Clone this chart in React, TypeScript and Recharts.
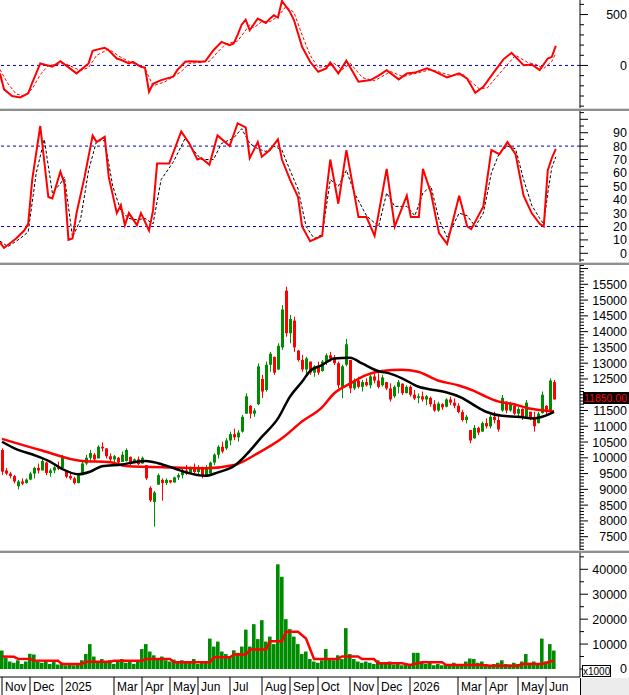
import React from "react"
import {
    ComposedChart,
    Bar,
    Line,
    XAxis,
    YAxis,
    ReferenceLine,
} from "recharts"

// each slot is one candle (~3 sessions); 145 slots fill the 580px plot
const SLOTS = 145

// [open, high, low, close]
const candles: [number, number, number, number][] = [
    [10250, 10300, 9460, 9560], [9600, 9680, 9450, 9500], [9500, 9560, 9350, 9420], [9420, 9460, 9190, 9250],
    [9100, 9300, 9000, 9250], [9250, 9350, 9140, 9180], [9200, 9350, 9180, 9310], [9310, 9560, 9290, 9500],
    [9500, 9720, 9350, 9680], [9680, 9820, 9500, 9600], [9600, 9980, 9600, 9900], [9850, 9880, 9450, 9520],
    [9520, 9660, 9400, 9600], [9600, 9770, 9510, 9700], [9700, 9880, 9610, 9650], [9680, 10090, 9670, 10000],
    [9600, 9610, 9350, 9400], [9420, 9560, 9300, 9350], [9350, 9400, 9160, 9200], [9200, 9510, 9190, 9450],
    [9450, 9880, 9450, 9820], [9820, 10090, 9770, 10000], [10000, 10250, 9880, 10150], [10100, 10150, 9880, 9950],
    [9980, 10400, 9980, 10350], [10350, 10490, 10200, 10300], [10300, 10300, 9980, 10050], [10050, 10140, 9880, 9950],
    [9950, 10090, 9830, 10050], [10000, 10030, 9770, 9850], [9870, 10200, 9870, 10100], [9900, 10300, 9880, 10250],
    [10030, 10040, 9770, 9850], [9850, 9980, 9830, 9950], [9950, 10040, 9770, 9800], [9820, 10040, 9810, 10000],
    [9770, 9770, 9300, 9350], [9050, 9100, 8600, 8650], [8600, 8950, 7820, 8900], [9150, 9500, 9140, 9450],
    [9300, 9350, 8640, 9200], [9200, 9350, 9140, 9300], [9290, 9300, 9190, 9220], [9220, 9400, 9210, 9380],
    [9380, 9510, 9300, 9450], [9450, 9670, 9350, 9600], [9600, 9770, 9460, 9500], [9520, 9720, 9510, 9680],
    [9680, 9820, 9500, 9550], [9550, 9770, 9460, 9700], [9700, 9720, 9350, 9420], [9450, 9770, 9450, 9700],
    [9500, 9880, 9460, 9850], [9850, 10140, 9770, 10100], [10100, 10400, 9980, 10350], [10350, 10510, 10140, 10200],
    [10300, 10620, 10250, 10550], [10550, 10830, 10400, 10750], [10750, 10930, 10560, 10650], [10650, 10880, 10510, 10800],
    [10830, 11360, 10800, 11300], [11400, 12040, 11400, 11950], [11650, 11670, 11250, 11400], [11400, 11570, 11300, 11500],
    [11700, 12990, 11670, 12900], [12500, 12630, 11900, 12100], [12150, 13050, 12100, 12950], [12950, 13360, 12730, 13300],
    [13200, 13210, 12630, 12700], [12800, 13630, 12780, 13550], [13500, 14840, 13420, 14700], [15300, 15425, 13840, 13950],
    [13950, 14530, 13630, 14400], [14350, 14470, 13360, 13500], [13400, 13420, 13050, 13100], [13100, 13260, 12730, 12800],
    [12800, 13200, 12630, 13150], [13050, 13050, 12630, 12700], [12700, 12940, 12570, 12900], [12900, 13050, 12630, 12700],
    [12750, 13100, 12730, 13050], [13050, 13310, 12940, 13250], [13250, 13360, 13050, 13150], [13150, 13260, 12940, 13000],
    [13000, 13050, 12200, 12300], [12250, 12950, 11890, 12900], [12950, 13770, 12900, 13600], [13100, 13100, 12050, 12200],
    [12200, 12520, 12150, 12450], [12450, 12570, 12200, 12250], [12250, 12470, 12100, 12400], [12400, 12520, 12260, 12300],
    [12300, 12630, 12200, 12580], [12580, 12680, 12360, 12450], [12450, 12680, 12200, 12250], [12300, 12630, 12260, 12550],
    [12400, 12410, 12150, 12200], [12200, 12360, 11780, 11850], [11950, 12300, 11900, 12250], [12250, 12470, 12040, 12400],
    [12350, 12360, 11990, 12050], [12050, 12300, 12040, 12250], [12250, 12300, 11940, 12000], [12000, 12150, 11830, 11880],
    [11900, 12040, 11730, 11950], [11950, 12100, 11780, 11850], [11850, 11990, 11670, 11950], [11900, 11940, 11620, 11700],
    [11700, 11830, 11460, 11500], [11500, 11780, 11460, 11720], [11700, 11730, 11520, 11600], [11620, 11890, 11600, 11850],
    [11850, 11940, 11670, 11750], [11750, 11880, 11570, 11650], [11650, 11730, 11410, 11450], [11450, 11520, 11150, 11200],
    [11200, 11360, 11090, 11300], [10880, 10880, 10460, 10550], [10620, 11040, 10600, 10950], [10950, 10990, 10720, 10800],
    [10830, 11150, 10830, 11100], [11100, 11250, 10930, 11000], [11000, 11360, 10930, 11300], [11300, 11460, 11090, 11200],
    [11200, 11360, 10830, 10900], [11500, 11990, 11460, 11900], [11780, 11780, 11410, 11500], [11500, 11780, 11460, 11700],
    [11650, 11670, 11360, 11400], [11400, 11620, 11250, 11550], [11550, 11570, 11200, 11300], [11300, 11830, 11300, 11750],
    [11460, 11460, 11200, 11250], [11300, 11460, 10830, 11000], [11100, 11460, 11090, 11400], [11420, 12100, 11400, 12000],
    [11650, 11670, 11360, 11450], [11460, 12520, 11460, 12450], [12400, 12470, 11850, 11850],
]

const volumes = [
    7400, 4500, 3000, 2500, 3500, 2000, 3000, 6100, 5800, 3000,
    2500, 3500, 2000, 2800, 1800, 2500, 1500, 1800, 1500, 2000,
    3500, 6000, 10000, 5000, 3000, 4000, 2500, 3500, 2000, 3000,
    4000, 2500, 3000, 2000, 3500, 8000, 10000, 7000, 5500, 4000,
    5000, 3500, 3000, 3800, 2500, 3500, 3000, 2500, 4000, 2000,
    3000, 2500, 12200, 9000, 11000, 7000, 6000, 5000, 7500, 6500,
    9000, 15800, 9000, 18000, 12000, 19600, 11000, 13000, 10000, 42000,
    37000, 20000, 16000, 13000, 10000, 6000, 7000, 4000, 3000, 2500,
    3500, 8000, 4000, 3500, 5500, 4000, 16400, 6000, 4000, 3000,
    2500, 3000, 2500, 2000, 3500, 2500, 2000, 3000, 1800, 2500,
    1500, 2000, 1800, 6500, 6500, 3000, 2000, 2500, 1500, 2000,
    1500, 2000, 1800, 2500, 1500, 2000, 3000, 4200, 4000, 2500,
    3000, 2000, 1500, 2000, 2500, 3500, 2000, 1800, 2500, 2000,
    3000, 6000, 2500, 3000, 2000, 12200, 3000, 10000, 7400,
]

// [slot, value] points
const maFast: [number, number][] = [
    [0, 10510], [4, 10250], [8, 10090], [12, 9880], [15, 9650], [19, 9480], [22, 9560], [25, 9730],
    [30, 9790], [33, 9860], [36, 9900], [39, 9830], [43, 9670], [46, 9540], [51, 9430], [54, 9540],
    [58, 9740], [61, 10090], [65, 10670], [69, 11250], [72, 11940], [75, 12410], [77, 12750], [80, 12940],
    [83, 13150], [87, 13170], [90, 12990], [94, 12750], [97, 12670], [100, 12520], [104, 12260], [108, 12150],
    [111, 12080], [115, 11900], [118, 11670], [121, 11460], [125, 11330], [129, 11300], [133, 11250], [135, 11300],
    [138, 11460],
]

const maSlow: [number, number][] = [
    [0, 10600], [10, 10230], [20, 9900], [27, 9860], [31, 9740], [43, 9690], [51, 9670], [58, 9770],
    [64, 10150], [70, 10620], [75, 11150], [80, 11600], [83, 12040], [87, 12350], [91, 12620], [95, 12750],
    [100, 12790], [104, 12730], [109, 12450], [114, 12300], [118, 12120], [121, 11940], [124, 11790], [128, 11700],
    [131, 11590], [135, 11510], [138, 11480],
]

const volAvg: [number, number][] = [
    [0, 5000], [3, 4900], [4, 4100], [7, 4000], [8, 3400], [14, 3300], [15, 2000], [20, 2000],
    [21, 2900], [27, 2900], [28, 3300], [35, 3300], [36, 4000], [42, 4000], [43, 2700], [52, 2700],
    [53, 4700], [57, 4700], [58, 5800], [61, 5800], [62, 7800], [66, 7800], [67, 11100], [70, 11100],
    [71, 14900], [74, 14900], [76, 12200], [78, 4000], [84, 4000], [85, 5000], [89, 5000], [90, 4000],
    [93, 4000], [94, 2300], [100, 2300], [102, 1600], [105, 2700], [110, 2700], [111, 1600], [120, 1600],
    [122, 1350], [129, 1350], [130, 2000], [135, 2000], [138, 3350],
]

const macdLine: [number, number][] = [
    [0, -80], [1, -235], [3, -300], [5, -314], [7, -274], [8, -170], [10, 20], [13, -13],
    [15, 42], [19, -78], [22, 20], [23, 144], [25, 165], [26, 173], [27, 150], [29, 68], [30, 56],
    [32, 20], [33, 35], [35, -13], [36, -20], [37, -258], [38, -180], [40, -144], [43, -110], [44, -46],
    [46, 36], [47, 42], [50, 36], [51, 42], [53, 150], [55, 232], [57, 200], [58, 216], [59, 300],
    [60, 400], [61, 450], [62, 346], [64, 461], [66, 418], [67, 460], [68, 493], [69, 471], [70, 634], [72, 526],
    [73, 444], [75, 183], [77, 36], [79, -62], [81, -29], [82, 29], [84, -78], [86, 46],
    [89, -160], [92, -144], [94, -100], [96, -46], [99, -137], [101, -78], [103, -70], [106, -29], [108, -60],
    [111, -118], [114, -78], [116, -130], [118, -268], [120, -209], [123, -46], [125, 60], [127, 124], [130, 3],
    [132, 10], [134, -46], [136, 68], [137, 85], [138, 193],
]

const macdSignal: [number, number][] = [
    [0, -40], [2, -180], [4, -280], [6, -300], [8, -230], [10, -90], [12, 0], [14, 10],
    [16, 20], [20, -50], [22, -20], [24, 100], [27, 160], [30, 80], [33, 20], [36, -30],
    [38, -200], [41, -160], [45, -60], [47, 20], [52, 40], [54, 130], [56, 210], [59, 240],
    [62, 400], [63, 370], [65, 430], [67, 430], [69, 480], [71, 580], [73, 520], [75, 300],
    [77, 100], [79, -20], [82, 0], [83, 20], [85, -40], [87, 20], [90, -120], [93, -150],
    [97, -60], [100, -110], [102, -90], [107, -40], [112, -100], [115, -90], [119, -230], [121, -220],
    [124, -80], [128, 100], [131, 30], [133, 10], [135, -30], [137, 40], [138, 120],
]

const stochK: [number, number][] = [
    [0, 8], [1, 4], [4, 11], [6, 17], [7, 22], [8, 55], [10, 95], [12, 42], [13, 41], [15, 61],
    [16, 52], [17, 10], [18, 11], [19, 30], [21, 57], [23, 88], [24, 83], [26, 87], [27, 57], [29, 30],
    [30, 36], [31, 21], [32, 30], [34, 21], [35, 30], [37, 17], [38, 32], [39, 67], [42, 67], [45, 91],
    [47, 82], [49, 70], [50, 71], [52, 66], [54, 88], [57, 80], [59, 97], [61, 94], [62, 71], [64, 83],
    [65, 72], [67, 77], [69, 85], [70, 70], [72, 55], [74, 42], [75, 20], [77, 9], [80, 13], [81, 45],
    [82, 70], [84, 37], [86, 77], [89, 27], [91, 27], [93, 13], [96, 63], [98, 20], [101, 43], [102, 27],
    [104, 27], [105, 63], [107, 45], [109, 15], [111, 7], [114, 43], [116, 20], [117, 18], [120, 35], [122, 77],
    [124, 74], [126, 83], [128, 74], [130, 43], [132, 30], [134, 22], [135, 20], [136, 62], [137, 71], [138, 78],
]

const stochD: [number, number][] = [
    [0, 9], [2, 5], [5, 11], [7, 16], [9, 60], [11, 85], [13, 45], [15, 52], [16, 57], [18, 12],
    [20, 25], [22, 62], [24, 84], [26, 84], [28, 50], [30, 32], [32, 26], [34, 25], [36, 26], [38, 22],
    [40, 55], [43, 68], [46, 86], [48, 77], [50, 70], [53, 70], [55, 82], [58, 86], [60, 93], [62, 82],
    [64, 78], [66, 76], [68, 80], [70, 77], [72, 62], [74, 48], [76, 20], [78, 11], [80, 14], [82, 55],
    [84, 50], [86, 62], [88, 45], [91, 28], [94, 20], [96, 45], [98, 35], [101, 35], [103, 28], [105, 45],
    [107, 50], [109, 25], [111, 12], [114, 30], [116, 28], [118, 20], [120, 30], [122, 60], [124, 75], [126, 80],
    [128, 78], [130, 55], [132, 36], [134, 26], [135, 22], [136, 45], [137, 64], [138, 72],
]

const monthTicks = [0, 7, 15, 28, 35, 42, 49, 57, 65, 72, 79, 87, 94, 102, 114, 121, 129, 136]
const monthLabels = ["Nov", "Dec", "2025", "Mar", "Apr", "May", "Jun", "Jul", "Aug", "Sep", "Oct", "Nov", "Dec", "2026", "Mar", "Apr", "May", "Jun"]

const lastPrice = "11850.00"

const GREEN = "#008c00"
const RED = "#ff0000"

type Row = { [k: string]: number | undefined }

const rows: Row[] = Array.from({ length: SLOTS }, (_, i) => ({ i }))
candles.forEach(([o, h, l, c], i) => Object.assign(rows[i], { o, h, l, c }))
volumes.forEach((v, i) => { rows[i].vol = v })
const put = (pts: [number, number][], key: string) => pts.forEach(([i, v]) => { rows[i][key] = v })
put(maFast, "maFast")
put(maSlow, "maSlow")
put(volAvg, "volAvg")
put(macdLine, "macd")
put(macdSignal, "signal")
put(stochK, "k")
put(stochD, "d")

const range = (from: number, to: number, step: number) => {
    const out: number[] = []
    for (let v = from; v <= to; v += step) out.push(v)
    return out
}

const axisTick = (isMajor: (v: number) => boolean, hasLabel: (v: number) => boolean) => (props: any) => {
    const { x, y, payload } = props
    const v = payload.value
    return (
        <g>
            <line x1={x} x2={x + (isMajor(v) ? 8 : 4)} y1={y} y2={y} stroke="#000" />
            {hasLabel(v) && (
                <text x={x + 47} y={y} dy={4.5} textAnchor="end" fontSize={12.5} fill="#000">{v}</text>
            )}
        </g>
    )
}

const monthTick = (props: any) => {
    const { x, y, payload } = props
    const k = monthTicks.indexOf(payload.value)
    return (
        <g>
            <line x1={x} x2={x} y1={y} y2={y + 18} stroke="#000" />
            <text x={x + 3} y={y + 14} fontSize={12} fill="#000">{monthLabels[k]}</text>
        </g>
    )
}

const CandleShape = (props: any) => {
    const { x, y, width, height, payload } = props
    if (payload.h == null) return <g />
    const top = Math.min(y, y + height)
    const span = Math.abs(height)
    const per = span / (payload.h - payload.l || 1)
    const bodyTop = top + (payload.h - Math.max(payload.o, payload.c)) * per
    const bodyH = Math.max(1, Math.abs(payload.o - payload.c) * per)
    const cx = x + width / 2
    const color = payload.c >= payload.o ? GREEN : RED
    return (
        <g>
            <rect x={cx - 0.5} y={top} width={1} height={Math.max(1, span)} fill={color} />
            <rect x={cx - 1.5} y={bodyTop} width={3} height={bodyH} fill={color} />
        </g>
    )
}

const W = 629
const MARGIN = { top: 0, right: 0, bottom: 0, left: 0 }
const yAxisCommon = {
    orientation: "right" as const,
    width: 49,
    tickSize: 0,
    tickMargin: 0,
    tickLine: false,
    interval: 0 as const,
    allowDataOverflow: true,
    axisLine: { stroke: "#000" },
}

const Separator = ({ top }: { top: number }) => (
    <div style={{ position: "absolute", left: 0, top, width: W, height: 3 }}>
        <div style={{ height: 1, background: "#d8d8d8" }} />
        <div style={{ height: 2, background: "#8f8f8f" }} />
    </div>
)

export default function App() {
    return (
        <div
            style={{
                position: "absolute",
                left: 0,
                top: 0,
                width: W,
                height: 695,
                background: "#fff",
                overflow: "hidden",
                fontFamily: "'Liberation Sans', Arial, sans-serif",
            }}
        >
            {/* MACD */}
            <div style={{ position: "absolute", left: 0, top: 0 }}>
                <ComposedChart width={W} height={108} data={rows} margin={MARGIN}>
                    <XAxis dataKey="i" hide />
                    <YAxis
                        {...yAxisCommon}
                        domain={[-418, 643]}
                        ticks={range(-400, 600, 100)}
                        tick={axisTick((v) => v === 0 || v === 500, (v) => v === 0 || v === 500)}
                    />
                    <ReferenceLine y={0} stroke="#0000cc" strokeDasharray="3 3" />
                    <Line dataKey="signal" type="linear" stroke={RED} strokeWidth={1} strokeDasharray="3 2" dot={false} activeDot={false} connectNulls isAnimationActive={false} />
                    <Line dataKey="macd" type="linear" stroke={RED} strokeWidth={2} dot={false} activeDot={false} connectNulls isAnimationActive={false} />
                </ComposedChart>
            </div>
            <Separator top={108} />

            {/* Stochastic */}
            <div style={{ position: "absolute", left: 0, top: 111 }}>
                <ComposedChart width={W} height={151} data={rows} margin={MARGIN}>
                    <XAxis dataKey="i" hide />
                    <YAxis
                        {...yAxisCommon}
                        domain={[-6.5, 106.2]}
                        ticks={range(-5, 105, 5)}
                        tick={axisTick((v) => v % 10 === 0, (v) => v % 10 === 0 && v >= 0 && v <= 90)}
                    />
                    <ReferenceLine y={80} stroke="#0000cc" strokeDasharray="3 3" />
                    <ReferenceLine y={20} stroke="#0000cc" strokeDasharray="3 3" />
                    <Line dataKey="d" type="linear" stroke="#000" strokeWidth={1} strokeDasharray="3 2" dot={false} activeDot={false} connectNulls isAnimationActive={false} />
                    <Line dataKey="k" type="linear" stroke={RED} strokeWidth={2} dot={false} activeDot={false} connectNulls isAnimationActive={false} />
                </ComposedChart>
            </div>
            <Separator top={262} />

            {/* Price */}
            <div style={{ position: "absolute", left: 0, top: 265 }}>
                <ComposedChart width={W} height={285} data={rows} margin={MARGIN}>
                    <XAxis dataKey="i" hide />
                    <YAxis
                        {...yAxisCommon}
                        domain={[7078, 16112]}
                        ticks={range(7100, 16100, 100)}
                        tick={axisTick((v) => v % 500 === 0, (v) => v % 500 === 0 && v <= 15500 && v !== 12000)}
                    />
                    <Bar
                        dataKey={(r: Row) => (r.h == null ? null : [r.l, r.h])}
                        barSize={3}
                        shape={<CandleShape />}
                        isAnimationActive={false}
                    />
                    <Line dataKey="maSlow" type="monotone" stroke={RED} strokeWidth={2.5} dot={false} activeDot={false} connectNulls isAnimationActive={false} />
                    <Line dataKey="maFast" type="monotone" stroke="#000" strokeWidth={2.5} dot={false} activeDot={false} connectNulls isAnimationActive={false} />
                </ComposedChart>
            </div>
            <div
                style={{
                    position: "absolute",
                    left: 583,
                    top: 392,
                    width: 46,
                    height: 12,
                    background: "#000",
                    color: RED,
                    fontSize: 10.5,
                    lineHeight: "12px",
                    paddingLeft: 1,
                    overflow: "hidden",
                    whiteSpace: "nowrap",
                    boxSizing: "border-box",
                }}
            >
                {lastPrice}
            </div>
            <Separator top={550} />

            {/* Volume */}
            <div style={{ position: "absolute", left: 0, top: 553 }}>
                <ComposedChart width={W} height={142} data={rows} margin={MARGIN}>
                    <XAxis
                        dataKey="i"
                        height={18}
                        ticks={monthTicks}
                        interval={0}
                        tickSize={0}
                        tickMargin={0}
                        tickLine={false}
                        axisLine={{ stroke: "#000" }}
                        tick={monthTick}
                    />
                    <YAxis
                        {...yAxisCommon}
                        domain={[-3210, 46540]}
                        ticks={range(0, 45000, 5000)}
                        tick={axisTick((v) => v % 10000 === 0, (v) => v % 10000 === 0 && v <= 40000)}
                    />
                    <Bar dataKey="vol" barSize={4} fill={GREEN} isAnimationActive={false} />
                    <Line dataKey="volAvg" type="linear" stroke={RED} strokeWidth={2.5} dot={false} activeDot={false} connectNulls isAnimationActive={false} />
                </ComposedChart>
            </div>
            <div
                style={{
                    position: "absolute",
                    left: 582,
                    top: 665,
                    width: 29,
                    height: 12,
                    border: "1px solid #000",
                    background: "#fff",
                    fontSize: 10,
                    lineHeight: "12px",
                    textAlign: "center",
                    boxSizing: "border-box",
                }}
            >
                x1000
            </div>
            <div
                style={{
                    position: "absolute",
                    left: 580,
                    top: 678,
                    width: 49,
                    height: 17,
                    background: "#ececec",
                    borderLeft: "1px solid #000",
                    boxSizing: "border-box",
                }}
            />
        </div>
    )
}
